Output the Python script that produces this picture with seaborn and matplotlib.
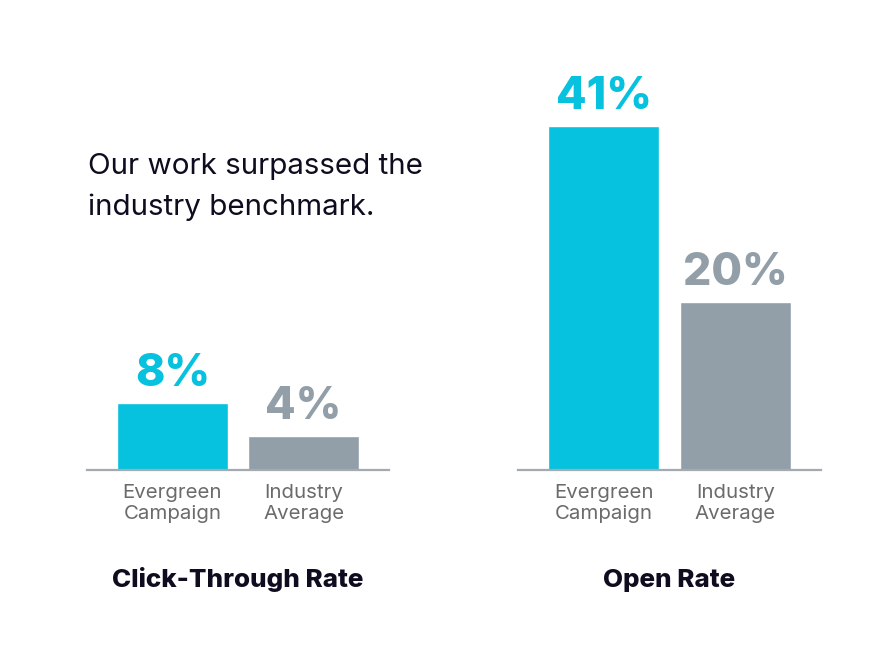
import matplotlib
matplotlib.use("Agg")
import matplotlib.pyplot as plt
import seaborn as sns

categories = ["Evergreen\nCampaign", "Industry\nAverage"]
ctr_values = [8, 4]
open_values = [41, 20]
panel_titles = ["Click-Through Rate", "Open Rate"]
headline_lines = ["Our work surpassed the", "industry benchmark."]

CYAN = "#06C2DE"
GRAY = "#939FA8"
AXIS = "#A3ABB1"
TICK = "#6B6B6B"
DARK = "#0D0D1F"

sns.set_theme(style="white")
plt.rcParams["font.family"] = ["Inter", "DejaVu Sans"]

W, H = 890, 668
fig = plt.figure(figsize=(W / 100, H / 100), dpi=100)

def frac_rect(x0, x1, ytop, ybot):
    return [x0 / W, 1 - ybot / H, (x1 - x0) / W, (ybot - ytop) / H]

ax1 = fig.add_axes(frac_rect(87, 389, 50.5, 470))
ax2 = fig.add_axes(frac_rect(518, 821, 50.5, 470))

for ax, vals, title in [(ax1, ctr_values, panel_titles[0]), (ax2, open_values, panel_titles[1])]:
    sns.barplot(x=categories, y=vals, hue=categories, palette=[CYAN, GRAY],
                width=0.844, legend=False, ax=ax, saturation=1)
    ax.set_xlim(-0.65, 1.65)
    ax.set_ylim(0, 50)
    for s in ["top", "right", "left"]:
        ax.spines[s].set_visible(False)
    ax.spines["bottom"].set_color(AXIS)
    ax.spines["bottom"].set_linewidth(1.6)
    ax.set_yticks([])
    ax.tick_params(axis="x", length=0, pad=10, labelsize=14.7, labelcolor=TICK)
    for lbl in ax.get_xticklabels():
        lbl.set_linespacing(1.25)
    ax.set_xlabel("")
    ax.set_ylabel("")
    for i, v in enumerate(vals):
        ax.text(i, v + 2.05, f"{v}%", ha="center", va="baseline",
                fontsize=32, fontweight="heavy", color=[CYAN, GRAY][i])
    pos = ax.get_position()
    fig.text((pos.x0 + pos.x1) / 2, 1 - 587 / H, title, ha="center", va="baseline",
             fontsize=18.7, fontweight="heavy", color=DARK)

for k, line in enumerate(headline_lines):
    fig.text(88 / W, 1 - (174 + 41 * k) / H, line, ha="left", va="baseline",
             fontsize=21.3, color=DARK)

fig.savefig("out.png", dpi=100, facecolor="white")
